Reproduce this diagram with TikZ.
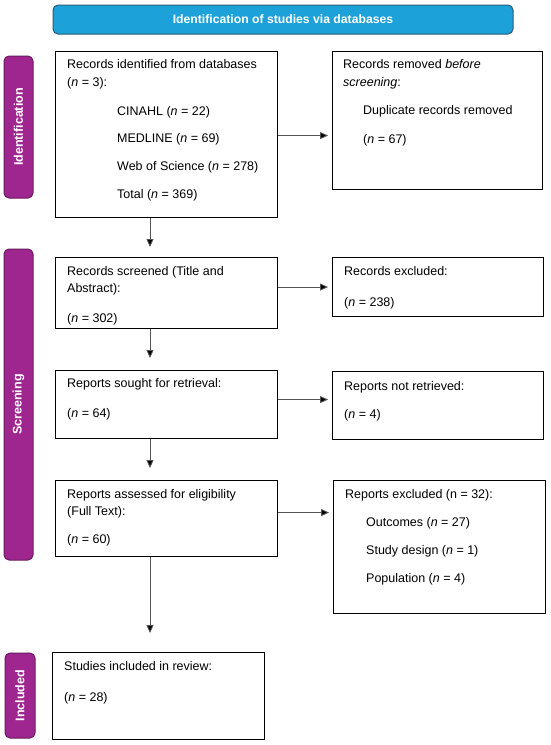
\documentclass[tikz,border=0pt]{standalone}
\usepackage{fontspec}
\setmainfont{Liberation Sans}
\usetikzlibrary{arrows.meta}
\definecolor{bannerblue}{HTML}{1DA1D9}
\definecolor{bannerline}{HTML}{2B5B78}
\definecolor{phasefill}{HTML}{A0268F}
\definecolor{phaseline}{HTML}{6A1A60}
\definecolor{arrowgray}{HTML}{555555}
\tikzset{
  boxnode/.style={draw=black, line width=1.1pt, anchor=north west, inner sep=0pt},
  txt/.style={anchor=base west, inner sep=0pt, font=\fontsize{12.5}{15}\selectfont},
  banner/.style={draw=bannerline, line width=1pt, fill=bannerblue, rounded corners=5pt,
    text=white, font=\fontsize{12.2}{15}\selectfont\bfseries, inner sep=0pt},
  phasebox/.style={draw=phaseline, line width=1pt, fill=phasefill, rounded corners=5pt,
    text=white, font=\fontsize{12.5}{15}\selectfont\bfseries, rotate=90, inner sep=0pt},
  arr/.style={draw=arrowgray, line width=0.8pt, -{Triangle[length=8pt,width=7pt,fill=black]}}
}
\begin{document}
\begin{tikzpicture}[x=1pt,y=-1pt]
\useasboundingbox (0,0) rectangle (550,745);
\fill[white] (0,0) rectangle (550,745);

% banner and phases
\node[banner, minimum width=460pt, minimum height=29pt] (ban) at (283,19.5) {Identification of studies via databases};
\node[phasebox, minimum width=142pt, minimum height=29pt] (pid) at (18.5,127) {Identification};
\node[phasebox, minimum width=311pt, minimum height=29pt] (psc) at (18.5,404.5) {Screening};
\node[phasebox, minimum width=85pt, minimum height=30pt] (pin) at (20,695.5) {Included};

% boxes
\node[boxnode, minimum width=222pt, minimum height=166pt] (b1) at (55,51) {};
\node[boxnode, minimum width=210pt, minimum height=138pt] (b2) at (332,51) {};
\node[boxnode, minimum width=222pt, minimum height=71pt] (b3) at (55,257) {};
\node[boxnode, minimum width=211pt, minimum height=59pt] (b4) at (332,257) {};
\node[boxnode, minimum width=222pt, minimum height=68pt] (b5) at (55,370) {};
\node[boxnode, minimum width=211pt, minimum height=68pt] (b6) at (332,371) {};
\node[boxnode, minimum width=222pt, minimum height=76pt] (b7) at (55,480) {};
\node[boxnode, minimum width=212pt, minimum height=133pt] (b8) at (333,480) {};
\node[boxnode, minimum width=212pt, minimum height=87pt] (b9) at (52,652) {};

% texts box 1
\node[txt] (t1a) at (67,68.5) {Records identified from databases};
\node[txt] (t1b) at (67,86.5) {(\textit{n} = 3):};
\node[txt] (t1c) at (117,115.5) {CINAHL (\textit{n} = 22)};
\node[txt] (t1d) at (117,142.5) {MEDLINE (\textit{n} = 69)};
\node[txt] (t1e) at (117,170.5) {Web of Science (\textit{n} = 278)};
\node[txt] (t1f) at (117,198.5) {Total (\textit{n} = 369)};
% box 2
\node[txt] (t2a) at (343,68.5) {Records removed \textit{before}};
\node[txt] (t2b) at (343,86.5) {\textit{screening}:};
\node[txt] (t2c) at (363,114.5) {Duplicate records removed};
\node[txt] (t2d) at (363,143.5) {(\textit{n} = 67)};
% box 3
\node[txt] (t3a) at (67,275.5) {Records screened (Title and};
\node[txt] (t3b) at (67,292.5) {Abstract):};
\node[txt] (t3c) at (67,322.5) {(\textit{n} = 302)};
% box 4
\node[txt] (t4a) at (344,275.5) {Records excluded:};
\node[txt] (t4b) at (344,306.5) {(\textit{n} = 238)};
% box 5
\node[txt] (t5a) at (67,387.5) {Reports sought for retrieval:};
\node[txt] (t5b) at (67,417.5) {(\textit{n} = 64)};
% box 6
\node[txt] (t6a) at (344,390.5) {Reports not retrieved:};
\node[txt] (t6b) at (344,418.5) {(\textit{n} = 4)};
% box 7
\node[txt] (t7a) at (67,498.5) {Reports assessed for eligibility};
\node[txt] (t7b) at (67,515.5) {(Full Text):};
\node[txt] (t7c) at (67,543.5) {(\textit{n} = 60)};
% box 8
\node[txt] (t8a) at (345,498.5) {Reports excluded (n = 32):};
\node[txt] (t8b) at (366,526.5) {Outcomes (\textit{n} = 27)};
\node[txt] (t8c) at (366,554.5) {Study design (\textit{n} = 1)};
\node[txt] (t8d) at (366,582.5) {Population (\textit{n} = 4)};
% box 9
\node[txt] (t9a) at (64,670.5) {Studies included in review:};
\node[txt] (t9b) at (64,701.5) {(\textit{n} = 28)};

% connectors
\coordinate (spine) at (150,0);
\draw[arr, shorten >=10pt] (spine |- b1.south) -- (spine |- b3.north);
\draw[arr, shorten >=12pt] (spine |- b3.south) -- (spine |- b5.north);
\draw[arr, shorten >=12pt] (spine |- b5.south) -- (spine |- b7.north);
\draw[arr, shorten >=19pt] (spine |- b7.south) -- (spine |- b9.north);

\draw[arr, shorten >=4pt] ([yshift=-1pt]b1.east) -- ([yshift=-1pt]b1.east -| b2.west);
\draw[arr, shorten >=4pt] (b3.east |- b4.west) -- (b4.west);
\draw[arr, shorten >=4pt] ([yshift=6pt]b6.west -| b5.east) -- ([yshift=6pt]b6.west);
\draw[arr, shorten >=4pt] ([yshift=6pt]b7.east) -- ([yshift=6pt]b7.east -| b8.west);
\end{tikzpicture}
\end{document}
